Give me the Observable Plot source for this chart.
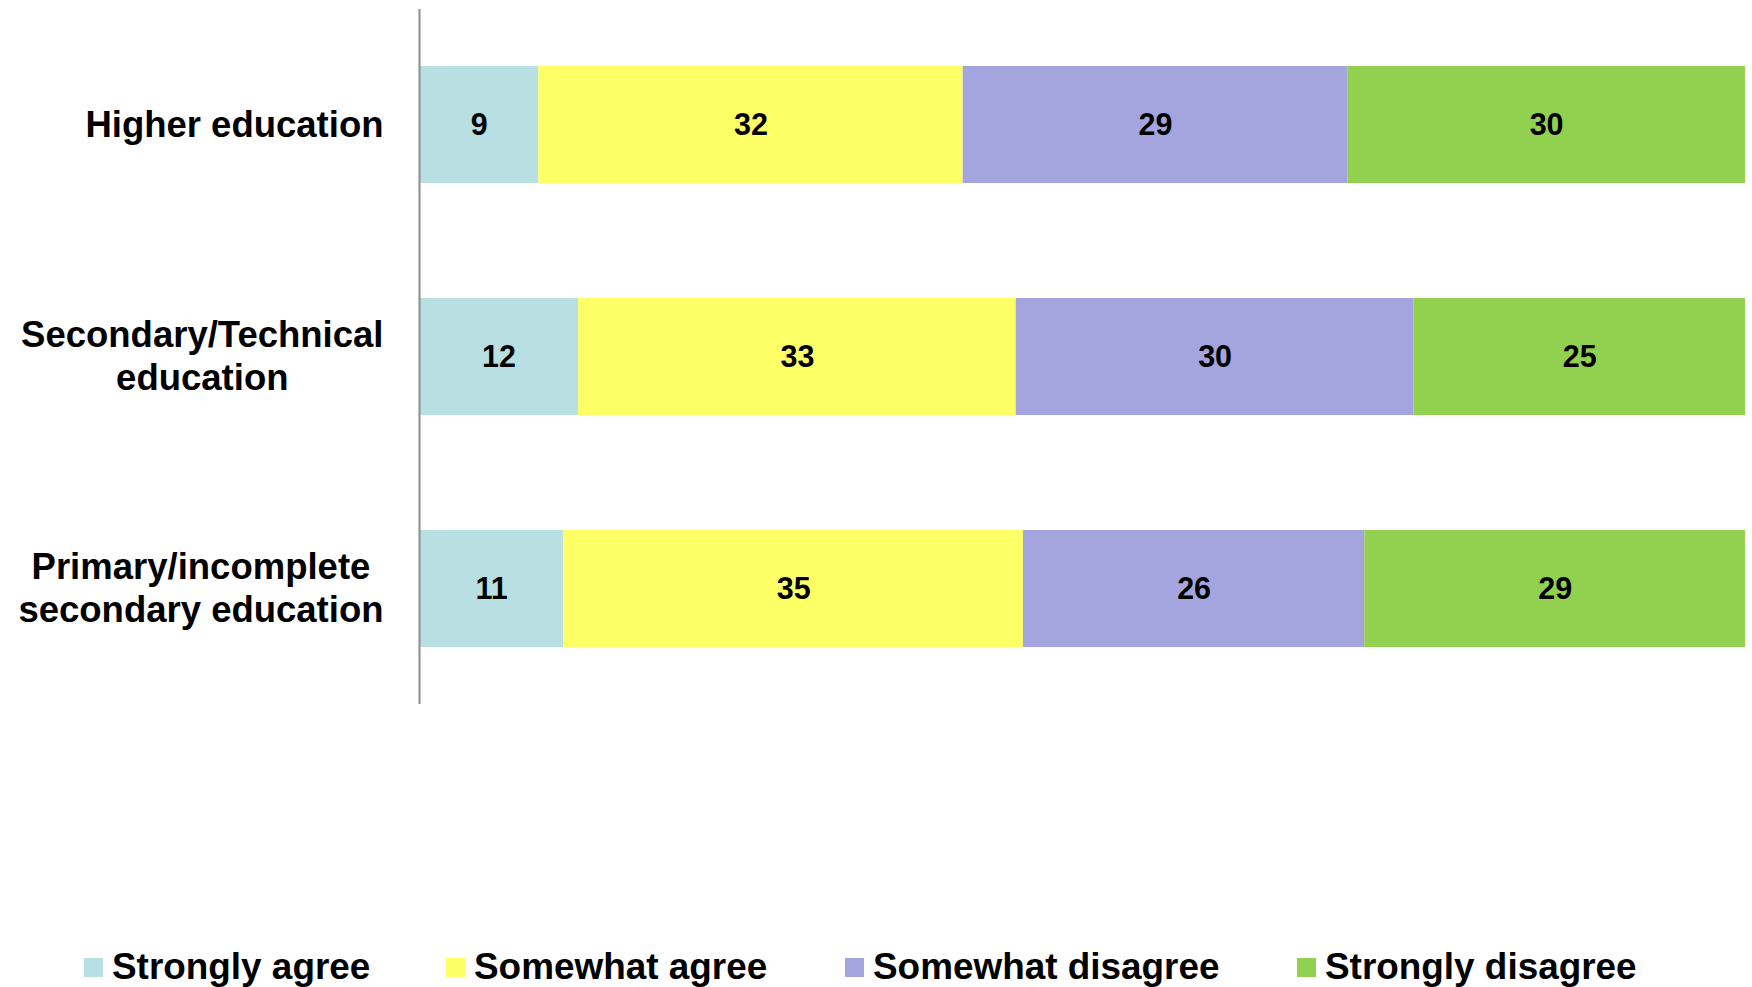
<!DOCTYPE html>
<html>
<head>
<meta charset="utf-8">
<script src="https://cdn.jsdelivr.net/npm/d3@7"></script>
<script src="https://cdn.jsdelivr.net/npm/@observablehq/plot@0.6"></script>
<style>
  html, body { margin: 0; padding: 0; background: #fff; }
  #wrap { width: 1752px; height: 987px; position: relative; overflow: hidden; font-family: "Liberation Sans", Arial, sans-serif; }
  #legend { position: relative; height: 57px; }
  .item { position: absolute; top: 15px; height: 44px; display: flex; align-items: center; font-weight: bold; font-size: 36.9px; color: #000; white-space: nowrap; }
  .sw { width: 19px; height: 19px; margin-right: 9px; }
</style>
</head>
<body>
<div id="wrap"></div>
<script>
const categories = ["Higher education", "Secondary/Technical\neducation", "Primary/incomplete\nsecondary education"];
const series = ["Strongly agree", "Somewhat agree", "Somewhat disagree", "Strongly disagree"];
const stronglyAgree    = [9, 12, 11];
const somewhatAgree    = [32, 33, 35];
const somewhatDisagree = [29, 30, 26];
const stronglyDisagree = [30, 25, 29];
const colors = ["#B8E0E3", "#FFFF66", "#A4A4DF", "#92D050"];

const values = [stronglyAgree, somewhatAgree, somewhatDisagree, stronglyDisagree];
const data = [];
series.forEach((s, si) => categories.forEach((c, ci) => data.push({cat: c, series: s, value: values[si][ci]})));

const stackOpts = {x: "value", y: "cat", z: "series", order: series, offset: "normalize"};

const chart = Plot.plot({
  width: 1752,
  height: 930,
  marginLeft: 419,
  marginRight: 7,
  marginTop: 9,
  marginBottom: 226,
  style: {fontFamily: "'Liberation Sans', Arial, sans-serif", background: "#fff"},
  x: {domain: [0, 1], axis: null},
  y: {domain: categories, paddingInner: 0.495, paddingOuter: 0.245, label: null},
  color: {domain: series, range: colors},
  marks: [
    Plot.barX(data, Plot.stackX({...stackOpts, fill: "series"})),
    Plot.textX(data, Plot.stackX({...stackOpts, text: d => String(d.value), fontSize: 30.5, fontWeight: "bold", fill: "#000"})),
    Plot.axisY({tickSize: 0, tickPadding: 36, fontSize: 36.5, fontWeight: "bold", lineHeight: 1.17, fill: "#000", label: null, textOverflow: null}),
    Plot.ruleX([0], {stroke: "#8C8C8C", strokeWidth: 2})
  ]
});

document.getElementById("wrap").appendChild(chart);

// center multi-line labels within their right-aligned block
chart.querySelectorAll("g[aria-label='y-axis tick label'] text").forEach(t => {
  const w = t.getBBox().width;
  t.setAttribute("text-anchor", "middle");
  const tr = t.getAttribute("transform") || "";
  t.setAttribute("transform", tr + ` translate(${-w / 2},-2)`);
});

const legend = document.createElement("div");
legend.id = "legend";
const legendX = [84, 446, 845, 1297];
series.forEach((s, i) => {
  const it = document.createElement("div");
  it.className = "item";
  it.style.left = legendX[i] + "px";
  const sw = document.createElement("div");
  sw.className = "sw";
  sw.style.background = colors[i];
  it.appendChild(sw);
  it.appendChild(document.createTextNode(s));
  legend.appendChild(it);
});
document.getElementById("wrap").appendChild(legend);
</script>
</body>
</html>
